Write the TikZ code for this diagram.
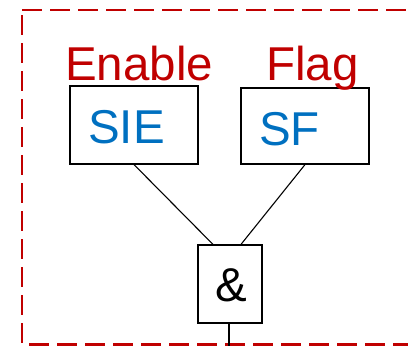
\documentclass[tikz,border=0pt]{standalone}
\usepackage{fontspec}
\setmainfont{Liberation Sans}
\usetikzlibrary{positioning}
\usepackage{xcolor}
\definecolor{regred}{HTML}{C00000}
\definecolor{regblue}{HTML}{0070C0}

\begin{document}
\begin{tikzpicture}[x=1pt,y=-1pt,
    regbox/.style={draw,line width=1.2pt,minimum width=#1,inner sep=0pt},
    bigtxt/.style={font=\fontsize{47.5}{52}\selectfont,inner sep=0pt,anchor=base west},
    frame/.style={regred,line width=2.6pt,dash pattern=on 20pt off 8pt},
    wire/.style={line width=1.1pt}]
            \def\W{408}
            \def\H{346}
            \useasboundingbox (0,0) rectangle (\W,\H);

            % dashed register frame
            \draw[frame] (22,10) -- (430,10);
            \draw[frame] (22,15) -- (22,\H);
            \draw[frame] (29,344.5) -- (430,344.5);

            % the two bits
            \node[regbox=128pt,minimum height=78pt] (sie) at (134,125) {};
            \node[regbox=128pt,minimum height=76pt] (sf) at (305,126) {};
            \node[bigtxt,regblue] (sietxt) at (88,143) {SIE};
            \node[bigtxt,regblue] (sftxt) at (259,145) {SF};

            \node[bigtxt,regred] (enable) at (65,80) {Enable};
            \node[bigtxt,regred] (flag) at (266,80) {Flag};

            % and gate
            \node[regbox=64pt,minimum height=78pt] (and) at (230,284) {};
            \node[font=\fontsize{47.5}{52}\selectfont,inner sep=0pt,anchor=base] (amp) at (231,301) {\&};

            \draw[wire] (sie.south) -- ([xshift=-17pt]and.north);
            \draw[wire] (sf.south) -- ([xshift=11pt]and.north);
            \coordinate (out) at (229,\H);
            \draw[wire] (and.south -| out) -- (out);
        \end{tikzpicture}
\end{document}
